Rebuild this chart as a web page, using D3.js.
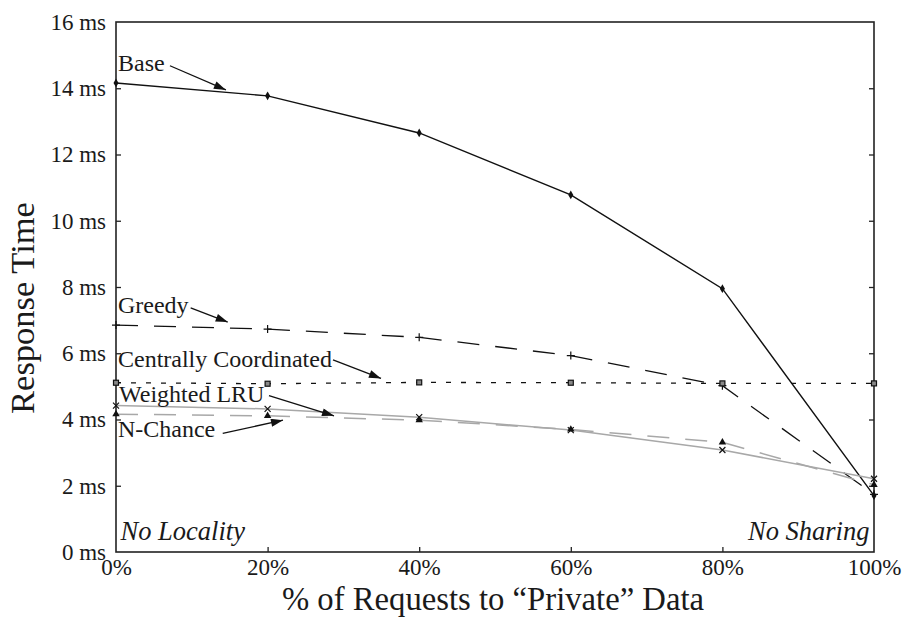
<!DOCTYPE html>
<html>
<head>
<meta charset="utf-8">
<script src="https://cdn.jsdelivr.net/npm/d3@7"></script>
<style>
  html, body { margin: 0; padding: 0; background: #fff; }
  svg { display: block; }
</style>
</head>
<body>
<svg id="chart" width="903" height="619"></svg>
<script>
// x positions: share of requests that go to "private" data
const privatePct = [0, 20, 40, 60, 80, 100];

// response time (ms) for each cache-management policy
const baseMs        = [14.16, 13.77, 12.65, 10.78, 7.95, 1.70];
const greedyMs      = [6.85, 6.73, 6.48, 5.93, 5.02, 1.74];
const centralMs     = [5.11, 5.08, 5.12, 5.11, 5.09, 5.09];
const weightedLruMs = [4.42, 4.32, 4.07, 3.68, 3.08, 2.21];
const nChanceMs     = [4.16, 4.11, 3.98, 3.70, 3.31, 2.03];

const xTicks = [0, 20, 40, 60, 80, 100];
const yTicks = [0, 2, 4, 6, 8, 10, 12, 14, 16];

// label text, label baseline and arrow (from -> to) in data units
const labelNames = ["Base", "Greedy", "Centrally Coordinated", "Weighted LRU", "N-Chance"];
const labelAt    = [[0.26, 14.53], [0.26, 7.21], [0.26, 5.58], [0.4, 4.54], [0.26, 3.48]];
const arrowFrom  = [[7.12, 14.68], [9.85, 7.37], [28.63, 5.80], [20.18, 4.72], [14.08, 3.58]];
const arrowTo    = [[14.5, 13.95], [14.74, 6.94], [34.96, 5.24], [28.76, 4.11], [22.03, 3.98]];

const SERIF = '"Liberation Serif", "Times New Roman", "DejaVu Serif", serif';
const INK = "#1a1a1a";

const svg = d3.select("#chart")
  .attr("font-family", SERIF);
const margin = { left: 116, top: 22, right: 29, bottom: 67 };
const W = 903 - margin.left - margin.right;
const H = 619 - margin.top - margin.bottom;

const x = d3.scaleLinear().domain([0, 100]).range([0, W]);
const y = d3.scaleLinear().domain([0, 16]).range([H, 0]);

const g = svg.append("g").attr("transform", `translate(${margin.left},${margin.top})`);

// arrowhead marker
svg.append("defs").append("marker")
  .attr("id", "head")
  .attr("viewBox", "0 0 12 8")
  .attr("refX", 12).attr("refY", 4)
  .attr("markerWidth", 15).attr("markerHeight", 8)
  .attr("markerUnits", "userSpaceOnUse")
  .attr("orient", "auto")
  .append("path").attr("d", "M0,0 L12,4 L0,8 Z").attr("fill", "#111");

// axes (ticks point inward)
const tickSize = 5;
const yLeft = g.append("g").call(d3.axisLeft(y).tickValues(yTicks).tickSize(-tickSize).tickPadding(5 + tickSize).tickFormat(d => `${d} ms`));
const yRight = g.append("g").attr("transform", `translate(${W},0)`)
  .call(d3.axisRight(y).tickValues(yTicks).tickSize(-tickSize).tickFormat(""));
const xBottom = g.append("g").attr("transform", `translate(0,${H})`)
  .call(d3.axisBottom(x).tickValues(xTicks).tickSize(-tickSize).tickPadding(2 + tickSize).tickFormat(d => `${d}%`));

[yLeft, yRight, xBottom].forEach(a => {
  a.attr("font-family", SERIF).attr("font-size", 23);
  a.select(".domain").remove();
  a.selectAll(".tick line").attr("stroke", "#222").attr("stroke-width", 1.3);
  a.selectAll(".tick text").attr("fill", INK);
});
yLeft.selectAll(".tick text").attr("dy", "0.32em");
xBottom.selectAll(".tick text").attr("dy", "0.71em");
// no tick marks drawn at the frame corners
[yLeft, yRight].forEach(a => a.selectAll(".tick line").filter(d => d === 0 || d === 16).remove());
xBottom.selectAll(".tick line").filter(d => d === 0 || d === 100).remove();

// frame
g.append("rect").attr("width", W).attr("height", H)
  .attr("fill", "none").attr("stroke", "#222").attr("stroke-width", 1.6);

// series
const series = [
  { vals: baseMs,        color: "#111",  width: 1.4, dash: null,    marker: "diamond" },
  { vals: greedyMs,      color: "#111",  width: 1.3, dash: "22,16", marker: "plus" },
  { vals: centralMs,     color: "#111",  width: 1.3, dash: "5,10",  marker: "square" },
  { vals: weightedLruMs, color: "#a8a8a8", width: 1.5, dash: null,  marker: "cross" },
  { vals: nChanceMs,     color: "#a8a8a8", width: 1.5, dash: "22,16", marker: "triangle" }
];

const line = d3.line().x((d, i) => x(privatePct[i])).y(d => y(d));

series.forEach(s => {
  g.append("path").datum(s.vals)
    .attr("d", line)
    .attr("fill", "none")
    .attr("stroke", s.color)
    .attr("stroke-width", s.width)
    .attr("stroke-dasharray", s.dash);
});

// point markers
series.forEach(s => {
  const pts = g.append("g");
  s.vals.forEach((v, i) => {
    const cx = x(privatePct[i]), cy = y(v);
    const m = pts.append("g").attr("transform", `translate(${cx},${cy})`);
    if (s.marker === "diamond") {
      m.append("path").attr("d", d3.symbol(d3.symbolDiamond, 22)()).attr("fill", "#111");
    } else if (s.marker === "plus") {
      m.append("path").attr("d", "M-4,0H4M0,-4V4").attr("stroke", "#111").attr("stroke-width", 1.2);
    } else if (s.marker === "square") {
      m.append("rect").attr("x", -2.5).attr("y", -2.5).attr("width", 5).attr("height", 5)
        .attr("fill", "#888").attr("stroke", "#111").attr("stroke-width", 1.2);
    } else if (s.marker === "cross") {
      m.append("path").attr("d", "M-3,-3L3,3M-3,3L3,-3").attr("stroke", "#111").attr("stroke-width", 1.2);
    } else if (s.marker === "triangle") {
      m.append("path").attr("d", d3.symbol(d3.symbolTriangle, 24)()).attr("fill", "#111");
    }
  });
});

// series labels with arrows
labelNames.forEach((name, i) => {
  g.append("text")
    .attr("x", x(labelAt[i][0])).attr("y", y(labelAt[i][1]))
    .attr("fill", INK)
    .attr("font-size", 24)
    .text(name);
  g.append("line")
    .attr("x1", x(arrowFrom[i][0])).attr("y1", y(arrowFrom[i][1]))
    .attr("x2", x(arrowTo[i][0])).attr("y2", y(arrowTo[i][1]))
    .attr("stroke", "#111").attr("stroke-width", 1.3)
    .attr("marker-end", "url(#head)");
});

// region notes at both ends of the x range
g.append("text").attr("x", x(0.6)).attr("y", y(0.36))
  .attr("fill", INK).attr("font-size", 26.5).attr("font-style", "italic").text("No Locality");
g.append("text").attr("x", x(99.4)).attr("y", y(0.36))
  .attr("text-anchor", "end")
  .attr("fill", INK).attr("font-size", 26.5).attr("font-style", "italic").text("No Sharing");

// axis titles
svg.append("text")
  .attr("x", margin.left + W / 2 - 2).attr("y", 610)
  .attr("text-anchor", "middle")
  .attr("fill", INK).attr("font-size", 32.7)
  .text("% of Requests to \u201CPrivate\u201D Data");

svg.append("text")
  .attr("transform", `translate(34,308) rotate(-90)`)
  .attr("text-anchor", "middle")
  .attr("fill", INK).attr("font-size", 34.5)
  .text("Response Time");
</script>
</body>
</html>
